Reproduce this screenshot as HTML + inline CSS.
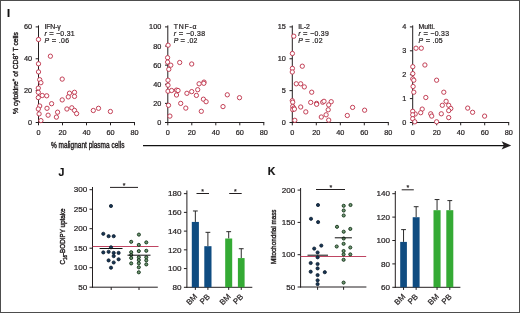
<!DOCTYPE html>
<html><head><meta charset="utf-8"><style>
html,body{margin:0;padding:0;background:#fff;}
body{width:520px;height:313px;overflow:hidden;position:relative;}
svg{position:absolute;left:0;top:0;font-family:"Liberation Sans", sans-serif;filter:blur(0.35px);}
text{stroke:#231f20;stroke-width:0.22px;}
</style></head><body>
<svg width="520" height="313" viewBox="0 0 520 313">
<rect x="0" y="0" width="520" height="313" fill="#fff"/>
<rect x="0.5" y="0.5" width="519" height="312" fill="none" stroke="#4d4d4d" stroke-width="1"/>
<line x1="38.50" y1="25.40" x2="38.50" y2="123.00" stroke="#231f20" stroke-width="1"/>
<line x1="38.00" y1="122.50" x2="135.00" y2="122.50" stroke="#231f20" stroke-width="1"/>
<line x1="35.70" y1="122.50" x2="38.50" y2="122.50" stroke="#231f20" stroke-width="1"/>
<text x="32.00" y="125.00" font-size="7.3" text-anchor="end" fill="#231f20" >0</text>
<line x1="35.70" y1="90.63" x2="38.50" y2="90.63" stroke="#231f20" stroke-width="1"/>
<text x="32.00" y="93.13" font-size="7.3" text-anchor="end" fill="#231f20" >20</text>
<line x1="35.70" y1="58.77" x2="38.50" y2="58.77" stroke="#231f20" stroke-width="1"/>
<text x="32.00" y="61.27" font-size="7.3" text-anchor="end" fill="#231f20" >40</text>
<line x1="35.70" y1="26.90" x2="38.50" y2="26.90" stroke="#231f20" stroke-width="1"/>
<text x="32.00" y="29.40" font-size="7.3" text-anchor="end" fill="#231f20" >60</text>
<line x1="38.50" y1="122.50" x2="38.50" y2="125.30" stroke="#231f20" stroke-width="1"/>
<text x="38.50" y="135.40" font-size="7.3" text-anchor="middle" fill="#231f20" >0</text>
<line x1="62.50" y1="122.50" x2="62.50" y2="125.30" stroke="#231f20" stroke-width="1"/>
<text x="62.50" y="135.40" font-size="7.3" text-anchor="middle" fill="#231f20" >20</text>
<line x1="86.50" y1="122.50" x2="86.50" y2="125.30" stroke="#231f20" stroke-width="1"/>
<text x="86.50" y="135.40" font-size="7.3" text-anchor="middle" fill="#231f20" >40</text>
<line x1="110.50" y1="122.50" x2="110.50" y2="125.30" stroke="#231f20" stroke-width="1"/>
<text x="110.50" y="135.40" font-size="7.3" text-anchor="middle" fill="#231f20" >60</text>
<line x1="134.50" y1="122.50" x2="134.50" y2="125.30" stroke="#231f20" stroke-width="1"/>
<text x="134.50" y="135.40" font-size="7.3" text-anchor="middle" fill="#231f20" >80</text>
<text x="44.40" y="29.00" font-size="6.9" text-anchor="start" fill="#231f20" textLength="16.4">IFN-γ</text>
<text x="44.40" y="36.00" font-size="6.9" text-anchor="start" fill="#231f20" textLength="30.2"><tspan font-style="italic">r</tspan> <tspan font-size="7.6">=</tspan> −0.31</text>
<text x="44.40" y="43.00" font-size="6.9" text-anchor="start" fill="#231f20" textLength="24.7"><tspan font-style="italic">P</tspan> <tspan font-size="7.6">=</tspan> .06</text>
<line x1="167.80" y1="25.40" x2="167.80" y2="123.00" stroke="#231f20" stroke-width="1"/>
<line x1="167.30" y1="122.50" x2="264.30" y2="122.50" stroke="#231f20" stroke-width="1"/>
<line x1="165.00" y1="122.50" x2="167.80" y2="122.50" stroke="#231f20" stroke-width="1"/>
<text x="161.30" y="125.00" font-size="7.3" text-anchor="end" fill="#231f20" >0</text>
<line x1="165.00" y1="103.38" x2="167.80" y2="103.38" stroke="#231f20" stroke-width="1"/>
<text x="161.30" y="105.88" font-size="7.3" text-anchor="end" fill="#231f20" >20</text>
<line x1="165.00" y1="84.26" x2="167.80" y2="84.26" stroke="#231f20" stroke-width="1"/>
<text x="161.30" y="86.76" font-size="7.3" text-anchor="end" fill="#231f20" >40</text>
<line x1="165.00" y1="65.14" x2="167.80" y2="65.14" stroke="#231f20" stroke-width="1"/>
<text x="161.30" y="67.64" font-size="7.3" text-anchor="end" fill="#231f20" >60</text>
<line x1="165.00" y1="46.02" x2="167.80" y2="46.02" stroke="#231f20" stroke-width="1"/>
<text x="161.30" y="48.52" font-size="7.3" text-anchor="end" fill="#231f20" >80</text>
<line x1="165.00" y1="26.90" x2="167.80" y2="26.90" stroke="#231f20" stroke-width="1"/>
<text x="161.30" y="29.40" font-size="7.3" text-anchor="end" fill="#231f20" >100</text>
<line x1="167.80" y1="122.50" x2="167.80" y2="125.30" stroke="#231f20" stroke-width="1"/>
<text x="167.80" y="135.40" font-size="7.3" text-anchor="middle" fill="#231f20" >0</text>
<line x1="191.80" y1="122.50" x2="191.80" y2="125.30" stroke="#231f20" stroke-width="1"/>
<text x="191.80" y="135.40" font-size="7.3" text-anchor="middle" fill="#231f20" >20</text>
<line x1="215.80" y1="122.50" x2="215.80" y2="125.30" stroke="#231f20" stroke-width="1"/>
<text x="215.80" y="135.40" font-size="7.3" text-anchor="middle" fill="#231f20" >40</text>
<line x1="239.80" y1="122.50" x2="239.80" y2="125.30" stroke="#231f20" stroke-width="1"/>
<text x="239.80" y="135.40" font-size="7.3" text-anchor="middle" fill="#231f20" >60</text>
<line x1="263.80" y1="122.50" x2="263.80" y2="125.30" stroke="#231f20" stroke-width="1"/>
<text x="263.80" y="135.40" font-size="7.3" text-anchor="middle" fill="#231f20" >80</text>
<text x="173.70" y="29.00" font-size="6.9" text-anchor="start" fill="#231f20" textLength="22.9">TNF-α</text>
<text x="173.70" y="36.00" font-size="6.9" text-anchor="start" fill="#231f20" textLength="31.3"><tspan font-style="italic">r</tspan> <tspan font-size="7.6">=</tspan> −0.38</text>
<text x="173.70" y="43.00" font-size="6.9" text-anchor="start" fill="#231f20" textLength="23.6"><tspan font-style="italic">P</tspan> <tspan font-size="7.6">=</tspan> .02</text>
<line x1="292.30" y1="25.40" x2="292.30" y2="123.00" stroke="#231f20" stroke-width="1"/>
<line x1="291.80" y1="122.50" x2="388.80" y2="122.50" stroke="#231f20" stroke-width="1"/>
<line x1="289.50" y1="122.50" x2="292.30" y2="122.50" stroke="#231f20" stroke-width="1"/>
<text x="285.80" y="125.00" font-size="7.3" text-anchor="end" fill="#231f20" >0</text>
<line x1="289.50" y1="90.63" x2="292.30" y2="90.63" stroke="#231f20" stroke-width="1"/>
<text x="285.80" y="93.13" font-size="7.3" text-anchor="end" fill="#231f20" >5</text>
<line x1="289.50" y1="58.77" x2="292.30" y2="58.77" stroke="#231f20" stroke-width="1"/>
<text x="285.80" y="61.27" font-size="7.3" text-anchor="end" fill="#231f20" >10</text>
<line x1="289.50" y1="26.90" x2="292.30" y2="26.90" stroke="#231f20" stroke-width="1"/>
<text x="285.80" y="29.40" font-size="7.3" text-anchor="end" fill="#231f20" >15</text>
<line x1="292.30" y1="122.50" x2="292.30" y2="125.30" stroke="#231f20" stroke-width="1"/>
<text x="292.30" y="135.40" font-size="7.3" text-anchor="middle" fill="#231f20" >0</text>
<line x1="316.30" y1="122.50" x2="316.30" y2="125.30" stroke="#231f20" stroke-width="1"/>
<text x="316.30" y="135.40" font-size="7.3" text-anchor="middle" fill="#231f20" >20</text>
<line x1="340.30" y1="122.50" x2="340.30" y2="125.30" stroke="#231f20" stroke-width="1"/>
<text x="340.30" y="135.40" font-size="7.3" text-anchor="middle" fill="#231f20" >40</text>
<line x1="364.30" y1="122.50" x2="364.30" y2="125.30" stroke="#231f20" stroke-width="1"/>
<text x="364.30" y="135.40" font-size="7.3" text-anchor="middle" fill="#231f20" >60</text>
<line x1="388.30" y1="122.50" x2="388.30" y2="125.30" stroke="#231f20" stroke-width="1"/>
<text x="388.30" y="135.40" font-size="7.3" text-anchor="middle" fill="#231f20" >80</text>
<text x="298.20" y="29.00" font-size="6.9" text-anchor="start" fill="#231f20" textLength="11.7">IL-2</text>
<text x="298.20" y="36.00" font-size="6.9" text-anchor="start" fill="#231f20" textLength="30.6"><tspan font-style="italic">r</tspan> <tspan font-size="7.6">=</tspan> −0.39</text>
<text x="298.20" y="43.00" font-size="6.9" text-anchor="start" fill="#231f20" textLength="24.3"><tspan font-style="italic">P</tspan> <tspan font-size="7.6">=</tspan> .02</text>
<line x1="412.70" y1="25.40" x2="412.70" y2="123.00" stroke="#231f20" stroke-width="1"/>
<line x1="412.20" y1="122.50" x2="509.20" y2="122.50" stroke="#231f20" stroke-width="1"/>
<line x1="409.90" y1="122.50" x2="412.70" y2="122.50" stroke="#231f20" stroke-width="1"/>
<text x="406.20" y="125.00" font-size="7.3" text-anchor="end" fill="#231f20" >0</text>
<line x1="409.90" y1="98.60" x2="412.70" y2="98.60" stroke="#231f20" stroke-width="1"/>
<text x="406.20" y="101.10" font-size="7.3" text-anchor="end" fill="#231f20" >1</text>
<line x1="409.90" y1="74.70" x2="412.70" y2="74.70" stroke="#231f20" stroke-width="1"/>
<text x="406.20" y="77.20" font-size="7.3" text-anchor="end" fill="#231f20" >2</text>
<line x1="409.90" y1="50.80" x2="412.70" y2="50.80" stroke="#231f20" stroke-width="1"/>
<text x="406.20" y="53.30" font-size="7.3" text-anchor="end" fill="#231f20" >3</text>
<line x1="409.90" y1="26.90" x2="412.70" y2="26.90" stroke="#231f20" stroke-width="1"/>
<text x="406.20" y="29.40" font-size="7.3" text-anchor="end" fill="#231f20" >4</text>
<line x1="412.70" y1="122.50" x2="412.70" y2="125.30" stroke="#231f20" stroke-width="1"/>
<text x="412.70" y="135.40" font-size="7.3" text-anchor="middle" fill="#231f20" >0</text>
<line x1="436.70" y1="122.50" x2="436.70" y2="125.30" stroke="#231f20" stroke-width="1"/>
<text x="436.70" y="135.40" font-size="7.3" text-anchor="middle" fill="#231f20" >20</text>
<line x1="460.70" y1="122.50" x2="460.70" y2="125.30" stroke="#231f20" stroke-width="1"/>
<text x="460.70" y="135.40" font-size="7.3" text-anchor="middle" fill="#231f20" >40</text>
<line x1="484.70" y1="122.50" x2="484.70" y2="125.30" stroke="#231f20" stroke-width="1"/>
<text x="484.70" y="135.40" font-size="7.3" text-anchor="middle" fill="#231f20" >60</text>
<line x1="508.70" y1="122.50" x2="508.70" y2="125.30" stroke="#231f20" stroke-width="1"/>
<text x="508.70" y="135.40" font-size="7.3" text-anchor="middle" fill="#231f20" >80</text>
<text x="418.60" y="29.00" font-size="6.9" text-anchor="start" fill="#231f20" textLength="16.3">Multi.</text>
<text x="418.60" y="36.00" font-size="6.9" text-anchor="start" fill="#231f20" textLength="30.4"><tspan font-style="italic">r</tspan> <tspan font-size="7.6">=</tspan> −0.33</text>
<text x="418.60" y="43.00" font-size="6.9" text-anchor="start" fill="#231f20" textLength="24.1"><tspan font-style="italic">P</tspan> <tspan font-size="7.6">=</tspan> .05</text>
<circle cx="38.50" cy="39.50" r="2.15" fill="#fff" stroke="#c0384f" stroke-width="0.95"/>
<circle cx="50.40" cy="56.20" r="2.15" fill="#fff" stroke="#c0384f" stroke-width="0.95"/>
<circle cx="38.50" cy="63.80" r="2.15" fill="#fff" stroke="#c0384f" stroke-width="0.95"/>
<circle cx="38.50" cy="71.90" r="2.15" fill="#fff" stroke="#c0384f" stroke-width="0.95"/>
<circle cx="39.70" cy="79.70" r="2.15" fill="#fff" stroke="#c0384f" stroke-width="0.95"/>
<circle cx="40.90" cy="82.70" r="2.15" fill="#fff" stroke="#c0384f" stroke-width="0.95"/>
<circle cx="62.20" cy="79.10" r="2.15" fill="#fff" stroke="#c0384f" stroke-width="0.95"/>
<circle cx="38.30" cy="88.10" r="2.15" fill="#fff" stroke="#c0384f" stroke-width="0.95"/>
<circle cx="38.30" cy="92.30" r="2.15" fill="#fff" stroke="#c0384f" stroke-width="0.95"/>
<circle cx="42.30" cy="95.50" r="2.15" fill="#fff" stroke="#c0384f" stroke-width="0.95"/>
<circle cx="46.70" cy="95.80" r="2.15" fill="#fff" stroke="#c0384f" stroke-width="0.95"/>
<circle cx="38.30" cy="97.60" r="2.15" fill="#fff" stroke="#c0384f" stroke-width="0.95"/>
<circle cx="69.50" cy="93.20" r="2.15" fill="#fff" stroke="#c0384f" stroke-width="0.95"/>
<circle cx="74.50" cy="92.30" r="2.15" fill="#fff" stroke="#c0384f" stroke-width="0.95"/>
<circle cx="68.30" cy="96.90" r="2.15" fill="#fff" stroke="#c0384f" stroke-width="0.95"/>
<circle cx="74.50" cy="96.40" r="2.15" fill="#fff" stroke="#c0384f" stroke-width="0.95"/>
<circle cx="62.20" cy="99.90" r="2.15" fill="#fff" stroke="#c0384f" stroke-width="0.95"/>
<circle cx="51.60" cy="103.70" r="2.15" fill="#fff" stroke="#c0384f" stroke-width="0.95"/>
<circle cx="47.00" cy="108.30" r="2.15" fill="#fff" stroke="#c0384f" stroke-width="0.95"/>
<circle cx="39.70" cy="106.00" r="2.15" fill="#fff" stroke="#c0384f" stroke-width="0.95"/>
<circle cx="38.30" cy="109.00" r="2.15" fill="#fff" stroke="#c0384f" stroke-width="0.95"/>
<circle cx="66.90" cy="109.00" r="2.15" fill="#fff" stroke="#c0384f" stroke-width="0.95"/>
<circle cx="71.80" cy="107.80" r="2.15" fill="#fff" stroke="#c0384f" stroke-width="0.95"/>
<circle cx="74.50" cy="110.40" r="2.15" fill="#fff" stroke="#c0384f" stroke-width="0.95"/>
<circle cx="76.60" cy="113.60" r="2.15" fill="#fff" stroke="#c0384f" stroke-width="0.95"/>
<circle cx="57.60" cy="112.20" r="2.15" fill="#fff" stroke="#c0384f" stroke-width="0.95"/>
<circle cx="56.40" cy="117.10" r="2.15" fill="#fff" stroke="#c0384f" stroke-width="0.95"/>
<circle cx="48.10" cy="115.20" r="2.15" fill="#fff" stroke="#c0384f" stroke-width="0.95"/>
<circle cx="39.10" cy="113.90" r="2.15" fill="#fff" stroke="#c0384f" stroke-width="0.95"/>
<circle cx="40.90" cy="120.60" r="2.15" fill="#fff" stroke="#c0384f" stroke-width="0.95"/>
<circle cx="93.30" cy="110.50" r="2.15" fill="#fff" stroke="#c0384f" stroke-width="0.95"/>
<circle cx="98.50" cy="108.30" r="2.15" fill="#fff" stroke="#c0384f" stroke-width="0.95"/>
<circle cx="110.40" cy="111.50" r="2.15" fill="#fff" stroke="#c0384f" stroke-width="0.95"/>
<circle cx="168.10" cy="45.20" r="2.15" fill="#fff" stroke="#c0384f" stroke-width="0.95"/>
<circle cx="167.60" cy="57.70" r="2.15" fill="#fff" stroke="#c0384f" stroke-width="0.95"/>
<circle cx="167.60" cy="62.10" r="2.15" fill="#fff" stroke="#c0384f" stroke-width="0.95"/>
<circle cx="170.80" cy="65.20" r="2.15" fill="#fff" stroke="#c0384f" stroke-width="0.95"/>
<circle cx="168.80" cy="69.30" r="2.15" fill="#fff" stroke="#c0384f" stroke-width="0.95"/>
<circle cx="179.70" cy="62.50" r="2.15" fill="#fff" stroke="#c0384f" stroke-width="0.95"/>
<circle cx="191.70" cy="64.00" r="2.15" fill="#fff" stroke="#c0384f" stroke-width="0.95"/>
<circle cx="168.00" cy="80.20" r="2.15" fill="#fff" stroke="#c0384f" stroke-width="0.95"/>
<circle cx="168.00" cy="85.20" r="2.15" fill="#fff" stroke="#c0384f" stroke-width="0.95"/>
<circle cx="168.00" cy="91.20" r="2.15" fill="#fff" stroke="#c0384f" stroke-width="0.95"/>
<circle cx="171.60" cy="90.50" r="2.15" fill="#fff" stroke="#c0384f" stroke-width="0.95"/>
<circle cx="176.50" cy="90.10" r="2.15" fill="#fff" stroke="#c0384f" stroke-width="0.95"/>
<circle cx="178.00" cy="90.50" r="2.15" fill="#fff" stroke="#c0384f" stroke-width="0.95"/>
<circle cx="176.50" cy="95.00" r="2.15" fill="#fff" stroke="#c0384f" stroke-width="0.95"/>
<circle cx="199.10" cy="83.80" r="2.15" fill="#fff" stroke="#c0384f" stroke-width="0.95"/>
<circle cx="204.00" cy="82.10" r="2.15" fill="#fff" stroke="#c0384f" stroke-width="0.95"/>
<circle cx="203.80" cy="83.30" r="2.15" fill="#fff" stroke="#c0384f" stroke-width="0.95"/>
<circle cx="197.70" cy="89.70" r="2.15" fill="#fff" stroke="#c0384f" stroke-width="0.95"/>
<circle cx="191.70" cy="91.60" r="2.15" fill="#fff" stroke="#c0384f" stroke-width="0.95"/>
<circle cx="186.90" cy="93.30" r="2.15" fill="#fff" stroke="#c0384f" stroke-width="0.95"/>
<circle cx="196.40" cy="95.40" r="2.15" fill="#fff" stroke="#c0384f" stroke-width="0.95"/>
<circle cx="203.40" cy="99.20" r="2.15" fill="#fff" stroke="#c0384f" stroke-width="0.95"/>
<circle cx="206.10" cy="101.70" r="2.15" fill="#fff" stroke="#c0384f" stroke-width="0.95"/>
<circle cx="180.70" cy="103.40" r="2.15" fill="#fff" stroke="#c0384f" stroke-width="0.95"/>
<circle cx="185.80" cy="108.10" r="2.15" fill="#fff" stroke="#c0384f" stroke-width="0.95"/>
<circle cx="201.30" cy="111.30" r="2.15" fill="#fff" stroke="#c0384f" stroke-width="0.95"/>
<circle cx="168.50" cy="105.30" r="2.15" fill="#fff" stroke="#c0384f" stroke-width="0.95"/>
<circle cx="169.90" cy="116.10" r="2.15" fill="#fff" stroke="#c0384f" stroke-width="0.95"/>
<circle cx="227.30" cy="94.80" r="2.15" fill="#fff" stroke="#c0384f" stroke-width="0.95"/>
<circle cx="239.50" cy="97.70" r="2.15" fill="#fff" stroke="#c0384f" stroke-width="0.95"/>
<circle cx="223.00" cy="106.60" r="2.15" fill="#fff" stroke="#c0384f" stroke-width="0.95"/>
<circle cx="293.80" cy="36.20" r="2.15" fill="#fff" stroke="#c0384f" stroke-width="0.95"/>
<circle cx="292.40" cy="53.50" r="2.15" fill="#fff" stroke="#c0384f" stroke-width="0.95"/>
<circle cx="302.30" cy="66.20" r="2.15" fill="#fff" stroke="#c0384f" stroke-width="0.95"/>
<circle cx="292.40" cy="68.40" r="2.15" fill="#fff" stroke="#c0384f" stroke-width="0.95"/>
<circle cx="292.30" cy="72.00" r="2.15" fill="#fff" stroke="#c0384f" stroke-width="0.95"/>
<circle cx="296.30" cy="83.80" r="2.15" fill="#fff" stroke="#c0384f" stroke-width="0.95"/>
<circle cx="300.70" cy="83.80" r="2.15" fill="#fff" stroke="#c0384f" stroke-width="0.95"/>
<circle cx="304.30" cy="86.90" r="2.15" fill="#fff" stroke="#c0384f" stroke-width="0.95"/>
<circle cx="311.70" cy="92.20" r="2.15" fill="#fff" stroke="#c0384f" stroke-width="0.95"/>
<circle cx="292.30" cy="100.70" r="2.15" fill="#fff" stroke="#c0384f" stroke-width="0.95"/>
<circle cx="292.70" cy="102.20" r="2.15" fill="#fff" stroke="#c0384f" stroke-width="0.95"/>
<circle cx="292.70" cy="106.40" r="2.15" fill="#fff" stroke="#c0384f" stroke-width="0.95"/>
<circle cx="293.80" cy="108.10" r="2.15" fill="#fff" stroke="#c0384f" stroke-width="0.95"/>
<circle cx="292.70" cy="109.60" r="2.15" fill="#fff" stroke="#c0384f" stroke-width="0.95"/>
<circle cx="294.40" cy="109.10" r="2.15" fill="#fff" stroke="#c0384f" stroke-width="0.95"/>
<circle cx="300.70" cy="107.00" r="2.15" fill="#fff" stroke="#c0384f" stroke-width="0.95"/>
<circle cx="305.80" cy="111.90" r="2.15" fill="#fff" stroke="#c0384f" stroke-width="0.95"/>
<circle cx="310.70" cy="102.40" r="2.15" fill="#fff" stroke="#c0384f" stroke-width="0.95"/>
<circle cx="316.60" cy="103.40" r="2.15" fill="#fff" stroke="#c0384f" stroke-width="0.95"/>
<circle cx="316.60" cy="104.30" r="2.15" fill="#fff" stroke="#c0384f" stroke-width="0.95"/>
<circle cx="322.70" cy="102.20" r="2.15" fill="#fff" stroke="#c0384f" stroke-width="0.95"/>
<circle cx="324.00" cy="101.30" r="2.15" fill="#fff" stroke="#c0384f" stroke-width="0.95"/>
<circle cx="331.20" cy="101.70" r="2.15" fill="#fff" stroke="#c0384f" stroke-width="0.95"/>
<circle cx="328.70" cy="104.90" r="2.15" fill="#fff" stroke="#c0384f" stroke-width="0.95"/>
<circle cx="328.20" cy="109.80" r="2.15" fill="#fff" stroke="#c0384f" stroke-width="0.95"/>
<circle cx="326.10" cy="114.80" r="2.15" fill="#fff" stroke="#c0384f" stroke-width="0.95"/>
<circle cx="321.30" cy="117.00" r="2.15" fill="#fff" stroke="#c0384f" stroke-width="0.95"/>
<circle cx="328.70" cy="120.10" r="2.15" fill="#fff" stroke="#c0384f" stroke-width="0.95"/>
<circle cx="294.80" cy="120.30" r="2.15" fill="#fff" stroke="#c0384f" stroke-width="0.95"/>
<circle cx="347.30" cy="115.50" r="2.15" fill="#fff" stroke="#c0384f" stroke-width="0.95"/>
<circle cx="352.60" cy="107.40" r="2.15" fill="#fff" stroke="#c0384f" stroke-width="0.95"/>
<circle cx="364.60" cy="110.20" r="2.15" fill="#fff" stroke="#c0384f" stroke-width="0.95"/>
<circle cx="416.00" cy="48.20" r="2.15" fill="#fff" stroke="#c0384f" stroke-width="0.95"/>
<circle cx="421.30" cy="48.20" r="2.15" fill="#fff" stroke="#c0384f" stroke-width="0.95"/>
<circle cx="412.80" cy="66.70" r="2.15" fill="#fff" stroke="#c0384f" stroke-width="0.95"/>
<circle cx="424.90" cy="65.00" r="2.15" fill="#fff" stroke="#c0384f" stroke-width="0.95"/>
<circle cx="412.80" cy="73.60" r="2.15" fill="#fff" stroke="#c0384f" stroke-width="0.95"/>
<circle cx="412.70" cy="78.90" r="2.15" fill="#fff" stroke="#c0384f" stroke-width="0.95"/>
<circle cx="413.80" cy="80.20" r="2.15" fill="#fff" stroke="#c0384f" stroke-width="0.95"/>
<circle cx="413.10" cy="86.50" r="2.15" fill="#fff" stroke="#c0384f" stroke-width="0.95"/>
<circle cx="413.80" cy="92.20" r="2.15" fill="#fff" stroke="#c0384f" stroke-width="0.95"/>
<circle cx="436.60" cy="80.20" r="2.15" fill="#fff" stroke="#c0384f" stroke-width="0.95"/>
<circle cx="443.80" cy="92.20" r="2.15" fill="#fff" stroke="#c0384f" stroke-width="0.95"/>
<circle cx="425.80" cy="97.50" r="2.15" fill="#fff" stroke="#c0384f" stroke-width="0.95"/>
<circle cx="446.10" cy="101.30" r="2.15" fill="#fff" stroke="#c0384f" stroke-width="0.95"/>
<circle cx="442.30" cy="105.30" r="2.15" fill="#fff" stroke="#c0384f" stroke-width="0.95"/>
<circle cx="448.70" cy="105.30" r="2.15" fill="#fff" stroke="#c0384f" stroke-width="0.95"/>
<circle cx="450.80" cy="108.50" r="2.15" fill="#fff" stroke="#c0384f" stroke-width="0.95"/>
<circle cx="448.70" cy="110.60" r="2.15" fill="#fff" stroke="#c0384f" stroke-width="0.95"/>
<circle cx="422.20" cy="109.10" r="2.15" fill="#fff" stroke="#c0384f" stroke-width="0.95"/>
<circle cx="420.70" cy="112.70" r="2.15" fill="#fff" stroke="#c0384f" stroke-width="0.95"/>
<circle cx="415.20" cy="114.00" r="2.15" fill="#fff" stroke="#c0384f" stroke-width="0.95"/>
<circle cx="412.70" cy="111.30" r="2.15" fill="#fff" stroke="#c0384f" stroke-width="0.95"/>
<circle cx="412.70" cy="114.80" r="2.15" fill="#fff" stroke="#c0384f" stroke-width="0.95"/>
<circle cx="412.70" cy="118.70" r="2.15" fill="#fff" stroke="#c0384f" stroke-width="0.95"/>
<circle cx="430.70" cy="113.80" r="2.15" fill="#fff" stroke="#c0384f" stroke-width="0.95"/>
<circle cx="431.70" cy="116.10" r="2.15" fill="#fff" stroke="#c0384f" stroke-width="0.95"/>
<circle cx="441.30" cy="113.80" r="2.15" fill="#fff" stroke="#c0384f" stroke-width="0.95"/>
<circle cx="448.70" cy="117.60" r="2.15" fill="#fff" stroke="#c0384f" stroke-width="0.95"/>
<circle cx="436.60" cy="121.80" r="2.15" fill="#fff" stroke="#c0384f" stroke-width="0.95"/>
<circle cx="414.80" cy="121.80" r="2.15" fill="#fff" stroke="#c0384f" stroke-width="0.95"/>
<circle cx="467.70" cy="108.10" r="2.15" fill="#fff" stroke="#c0384f" stroke-width="0.95"/>
<circle cx="472.60" cy="112.30" r="2.15" fill="#fff" stroke="#c0384f" stroke-width="0.95"/>
<circle cx="484.60" cy="116.10" r="2.15" fill="#fff" stroke="#c0384f" stroke-width="0.95"/>
<text x="51" y="148.3" font-size="8.5" fill="#231f20" style="stroke-width:0.4px" textLength="73.5" lengthAdjust="spacingAndGlyphs">% malignant plasma cells</text>
<line x1="143.00" y1="145.60" x2="505.00" y2="145.60" stroke="#111" stroke-width="1.25"/>
<path d="M511.2,145.6 L501.6,141.3 L503.9,145.6 L501.6,149.6 Z" fill="#231f20"/>
<text transform="translate(17.5,114) rotate(-90)" x="0" y="0" font-size="7.9" fill="#231f20" style="stroke-width:0.4px" textLength="82" lengthAdjust="spacingAndGlyphs">% cytokine<tspan dy="-2.4" font-size="5">+</tspan><tspan dy="2.4"> of CD8</tspan><tspan dy="-2.4" font-size="5">+</tspan><tspan dy="2.4"> T cells</tspan></text>
<text x="7.0" y="16.6" font-size="11" font-weight="bold" fill="#111">I</text>
<text x="58.6" y="175.5" font-size="10.5" font-weight="bold" fill="#111">J</text>
<text x="267.8" y="175.4" font-size="10.5" font-weight="bold" fill="#111">K</text>
<line x1="92.50" y1="187.00" x2="92.50" y2="287.70" stroke="#231f20" stroke-width="1"/>
<line x1="89.50" y1="287.20" x2="92.50" y2="287.20" stroke="#231f20" stroke-width="1"/>
<text x="87.20" y="289.90" font-size="8.1" text-anchor="end" fill="#231f20" >50</text>
<line x1="89.50" y1="267.70" x2="92.50" y2="267.70" stroke="#231f20" stroke-width="1"/>
<text x="87.20" y="270.40" font-size="8.1" text-anchor="end" fill="#231f20" >100</text>
<line x1="89.50" y1="248.20" x2="92.50" y2="248.20" stroke="#231f20" stroke-width="1"/>
<text x="87.20" y="250.90" font-size="8.1" text-anchor="end" fill="#231f20" >150</text>
<line x1="89.50" y1="228.70" x2="92.50" y2="228.70" stroke="#231f20" stroke-width="1"/>
<text x="87.20" y="231.40" font-size="8.1" text-anchor="end" fill="#231f20" >200</text>
<line x1="89.50" y1="209.20" x2="92.50" y2="209.20" stroke="#231f20" stroke-width="1"/>
<text x="87.20" y="211.90" font-size="8.1" text-anchor="end" fill="#231f20" >250</text>
<line x1="89.50" y1="189.70" x2="92.50" y2="189.70" stroke="#231f20" stroke-width="1"/>
<text x="87.20" y="192.40" font-size="8.1" text-anchor="end" fill="#231f20" >300</text>
<line x1="92.00" y1="287.20" x2="157.80" y2="287.20" stroke="#231f20" stroke-width="1"/>
<line x1="111.20" y1="287.20" x2="111.20" y2="290.00" stroke="#231f20" stroke-width="1"/>
<line x1="139.00" y1="287.20" x2="139.00" y2="290.00" stroke="#231f20" stroke-width="1"/>
<line x1="92.60" y1="246.50" x2="158.50" y2="246.50" stroke="#bf4562" stroke-width="1"/>
<circle cx="110.96" cy="206.00" r="1.6" fill="#173654" stroke="#0b1a2c" stroke-width="0.8"/>
<circle cx="103.30" cy="233.80" r="1.6" fill="#173654" stroke="#0b1a2c" stroke-width="0.8"/>
<circle cx="108.60" cy="236.20" r="1.6" fill="#173654" stroke="#0b1a2c" stroke-width="0.8"/>
<circle cx="113.70" cy="236.20" r="1.6" fill="#173654" stroke="#0b1a2c" stroke-width="0.8"/>
<circle cx="111.00" cy="247.30" r="1.6" fill="#173654" stroke="#0b1a2c" stroke-width="0.8"/>
<circle cx="103.30" cy="252.40" r="1.6" fill="#173654" stroke="#0b1a2c" stroke-width="0.8"/>
<circle cx="108.60" cy="251.80" r="1.6" fill="#173654" stroke="#0b1a2c" stroke-width="0.8"/>
<circle cx="113.70" cy="252.90" r="1.6" fill="#173654" stroke="#0b1a2c" stroke-width="0.8"/>
<circle cx="118.60" cy="252.90" r="1.6" fill="#173654" stroke="#0b1a2c" stroke-width="0.8"/>
<circle cx="113.70" cy="256.10" r="1.6" fill="#173654" stroke="#0b1a2c" stroke-width="0.8"/>
<circle cx="108.60" cy="260.40" r="1.6" fill="#173654" stroke="#0b1a2c" stroke-width="0.8"/>
<circle cx="118.60" cy="259.30" r="1.6" fill="#173654" stroke="#0b1a2c" stroke-width="0.8"/>
<circle cx="113.70" cy="262.50" r="1.6" fill="#173654" stroke="#0b1a2c" stroke-width="0.8"/>
<circle cx="111.00" cy="267.70" r="1.6" fill="#173654" stroke="#0b1a2c" stroke-width="0.8"/>
<circle cx="138.90" cy="234.60" r="1.55" fill="#6e9670" stroke="#1c3b22" stroke-width="1.0"/>
<circle cx="131.20" cy="241.80" r="1.55" fill="#6e9670" stroke="#1c3b22" stroke-width="1.0"/>
<circle cx="146.30" cy="242.40" r="1.55" fill="#6e9670" stroke="#1c3b22" stroke-width="1.0"/>
<circle cx="138.80" cy="244.90" r="1.55" fill="#6e9670" stroke="#1c3b22" stroke-width="1.0"/>
<circle cx="138.80" cy="251.10" r="1.55" fill="#6e9670" stroke="#1c3b22" stroke-width="1.0"/>
<circle cx="146.30" cy="250.80" r="1.55" fill="#6e9670" stroke="#1c3b22" stroke-width="1.0"/>
<circle cx="131.20" cy="252.20" r="1.55" fill="#6e9670" stroke="#1c3b22" stroke-width="1.0"/>
<circle cx="131.20" cy="255.00" r="1.55" fill="#6e9670" stroke="#1c3b22" stroke-width="1.0"/>
<circle cx="131.20" cy="258.00" r="1.55" fill="#6e9670" stroke="#1c3b22" stroke-width="1.0"/>
<circle cx="138.80" cy="257.30" r="1.55" fill="#6e9670" stroke="#1c3b22" stroke-width="1.0"/>
<circle cx="146.30" cy="257.30" r="1.55" fill="#6e9670" stroke="#1c3b22" stroke-width="1.0"/>
<circle cx="138.80" cy="260.10" r="1.55" fill="#6e9670" stroke="#1c3b22" stroke-width="1.0"/>
<circle cx="146.30" cy="260.40" r="1.55" fill="#6e9670" stroke="#1c3b22" stroke-width="1.0"/>
<circle cx="131.20" cy="263.40" r="1.55" fill="#6e9670" stroke="#1c3b22" stroke-width="1.0"/>
<circle cx="138.80" cy="263.30" r="1.55" fill="#6e9670" stroke="#1c3b22" stroke-width="1.0"/>
<circle cx="146.30" cy="264.40" r="1.55" fill="#6e9670" stroke="#1c3b22" stroke-width="1.0"/>
<circle cx="138.80" cy="267.30" r="1.55" fill="#6e9670" stroke="#1c3b22" stroke-width="1.0"/>
<circle cx="138.80" cy="272.30" r="1.55" fill="#6e9670" stroke="#1c3b22" stroke-width="1.0"/>
<line x1="99.60" y1="248.50" x2="122.50" y2="248.50" stroke="#111" stroke-width="1"/>
<line x1="127.50" y1="255.20" x2="150.50" y2="255.20" stroke="#111" stroke-width="1"/>
<line x1="110.00" y1="187.40" x2="138.00" y2="187.40" stroke="#231f20" stroke-width="1"/>
<text x="124.20" y="187.60" font-size="7" text-anchor="middle" fill="#231f20" >*</text>
<text transform="translate(65.3,264.6) rotate(-90)" x="0" y="0" font-size="7.8" fill="#231f20" style="stroke-width:0.4px" textLength="56" lengthAdjust="spacingAndGlyphs">C<tspan dy="2.0" font-size="5.6">16</tspan><tspan dy="-2.0">-BODIPY uptake</tspan></text>
<line x1="186.90" y1="190.50" x2="186.90" y2="287.80" stroke="#231f20" stroke-width="1"/>
<line x1="183.90" y1="287.30" x2="186.90" y2="287.30" stroke="#231f20" stroke-width="1"/>
<text x="181.60" y="290.00" font-size="8.1" text-anchor="end" fill="#231f20" >80</text>
<line x1="183.90" y1="268.57" x2="186.90" y2="268.57" stroke="#231f20" stroke-width="1"/>
<text x="181.60" y="271.27" font-size="8.1" text-anchor="end" fill="#231f20" >100</text>
<line x1="183.90" y1="249.84" x2="186.90" y2="249.84" stroke="#231f20" stroke-width="1"/>
<text x="181.60" y="252.54" font-size="8.1" text-anchor="end" fill="#231f20" >120</text>
<line x1="183.90" y1="231.11" x2="186.90" y2="231.11" stroke="#231f20" stroke-width="1"/>
<text x="181.60" y="233.81" font-size="8.1" text-anchor="end" fill="#231f20" >140</text>
<line x1="183.90" y1="212.38" x2="186.90" y2="212.38" stroke="#231f20" stroke-width="1"/>
<text x="181.60" y="215.08" font-size="8.1" text-anchor="end" fill="#231f20" >160</text>
<line x1="183.90" y1="193.65" x2="186.90" y2="193.65" stroke="#231f20" stroke-width="1"/>
<text x="181.60" y="196.35" font-size="8.1" text-anchor="end" fill="#231f20" >180</text>
<line x1="186.40" y1="287.30" x2="252.30" y2="287.30" stroke="#231f20" stroke-width="1"/>
<line x1="195.35" y1="210.98" x2="195.35" y2="221.93" stroke="#2a2a2a" stroke-width="1.0"/>
<line x1="192.95" y1="210.98" x2="197.75" y2="210.98" stroke="#2a2a2a" stroke-width="1.0"/>
<rect x="191.80" y="221.93" width="7.10" height="65.37" fill="#0f4c81"/>
<line x1="195.35" y1="287.30" x2="195.35" y2="289.90" stroke="#231f20" stroke-width="1"/>
<line x1="207.90" y1="232.33" x2="207.90" y2="246.19" stroke="#2a2a2a" stroke-width="1.0"/>
<line x1="205.50" y1="232.33" x2="210.30" y2="232.33" stroke="#2a2a2a" stroke-width="1.0"/>
<rect x="204.30" y="246.19" width="7.20" height="41.11" fill="#0f4c81"/>
<line x1="207.90" y1="287.30" x2="207.90" y2="289.90" stroke="#231f20" stroke-width="1"/>
<line x1="228.70" y1="231.67" x2="228.70" y2="238.51" stroke="#2a2a2a" stroke-width="1.0"/>
<line x1="226.30" y1="231.67" x2="231.10" y2="231.67" stroke="#2a2a2a" stroke-width="1.0"/>
<rect x="225.20" y="238.51" width="7.00" height="48.79" fill="#34aa34"/>
<line x1="228.70" y1="287.30" x2="228.70" y2="289.90" stroke="#231f20" stroke-width="1"/>
<line x1="241.25" y1="248.72" x2="241.25" y2="258.08" stroke="#2a2a2a" stroke-width="1.0"/>
<line x1="238.85" y1="248.72" x2="243.65" y2="248.72" stroke="#2a2a2a" stroke-width="1.0"/>
<rect x="237.90" y="258.08" width="6.70" height="29.22" fill="#34aa34"/>
<line x1="241.25" y1="287.30" x2="241.25" y2="289.90" stroke="#231f20" stroke-width="1"/>
<line x1="196.50" y1="193.50" x2="209.00" y2="193.50" stroke="#231f20" stroke-width="1"/>
<text x="202.70" y="193.60" font-size="7" text-anchor="middle" fill="#231f20" >*</text>
<line x1="229.20" y1="193.50" x2="241.70" y2="193.50" stroke="#231f20" stroke-width="1"/>
<text x="235.40" y="193.60" font-size="7" text-anchor="middle" fill="#231f20" >*</text>
<text transform="translate(197.75,297.20) rotate(-45)" x="0" y="0" font-size="7.9" text-anchor="end" fill="#231f20">BM</text>
<text transform="translate(210.45,297.20) rotate(-45)" x="0" y="0" font-size="7.9" text-anchor="end" fill="#231f20">PB</text>
<text transform="translate(231.10,297.20) rotate(-45)" x="0" y="0" font-size="7.9" text-anchor="end" fill="#231f20">BM</text>
<text transform="translate(243.65,297.20) rotate(-45)" x="0" y="0" font-size="7.9" text-anchor="end" fill="#231f20">PB</text>
<line x1="300.60" y1="188.00" x2="300.60" y2="287.50" stroke="#231f20" stroke-width="1"/>
<line x1="297.60" y1="287.00" x2="300.60" y2="287.00" stroke="#231f20" stroke-width="1"/>
<text x="295.30" y="289.70" font-size="8.1" text-anchor="end" fill="#231f20" >50</text>
<line x1="297.60" y1="254.70" x2="300.60" y2="254.70" stroke="#231f20" stroke-width="1"/>
<text x="295.30" y="257.40" font-size="8.1" text-anchor="end" fill="#231f20" >100</text>
<line x1="297.60" y1="222.40" x2="300.60" y2="222.40" stroke="#231f20" stroke-width="1"/>
<text x="295.30" y="225.10" font-size="8.1" text-anchor="end" fill="#231f20" >150</text>
<line x1="297.60" y1="190.10" x2="300.60" y2="190.10" stroke="#231f20" stroke-width="1"/>
<text x="295.30" y="192.80" font-size="8.1" text-anchor="end" fill="#231f20" >200</text>
<line x1="300.10" y1="287.00" x2="366.40" y2="287.00" stroke="#231f20" stroke-width="1"/>
<line x1="317.60" y1="287.00" x2="317.60" y2="289.80" stroke="#231f20" stroke-width="1"/>
<line x1="343.60" y1="287.00" x2="343.60" y2="289.80" stroke="#231f20" stroke-width="1"/>
<line x1="300.60" y1="256.50" x2="366.20" y2="256.50" stroke="#bf4562" stroke-width="1"/>
<circle cx="318.00" cy="205.00" r="1.6" fill="#173654" stroke="#0b1a2c" stroke-width="0.8"/>
<circle cx="311.00" cy="218.80" r="1.6" fill="#173654" stroke="#0b1a2c" stroke-width="0.8"/>
<circle cx="318.10" cy="222.10" r="1.6" fill="#173654" stroke="#0b1a2c" stroke-width="0.8"/>
<circle cx="321.30" cy="245.60" r="1.6" fill="#173654" stroke="#0b1a2c" stroke-width="0.8"/>
<circle cx="314.20" cy="248.60" r="1.6" fill="#173654" stroke="#0b1a2c" stroke-width="0.8"/>
<circle cx="317.60" cy="252.50" r="1.6" fill="#173654" stroke="#0b1a2c" stroke-width="0.8"/>
<circle cx="317.60" cy="257.30" r="1.6" fill="#173654" stroke="#0b1a2c" stroke-width="0.8"/>
<circle cx="310.70" cy="263.00" r="1.6" fill="#173654" stroke="#0b1a2c" stroke-width="0.8"/>
<circle cx="317.60" cy="264.00" r="1.6" fill="#173654" stroke="#0b1a2c" stroke-width="0.8"/>
<circle cx="317.60" cy="268.40" r="1.6" fill="#173654" stroke="#0b1a2c" stroke-width="0.8"/>
<circle cx="310.70" cy="271.70" r="1.6" fill="#173654" stroke="#0b1a2c" stroke-width="0.8"/>
<circle cx="324.80" cy="272.20" r="1.6" fill="#173654" stroke="#0b1a2c" stroke-width="0.8"/>
<circle cx="317.60" cy="275.10" r="1.6" fill="#173654" stroke="#0b1a2c" stroke-width="0.8"/>
<circle cx="317.60" cy="280.30" r="1.6" fill="#173654" stroke="#0b1a2c" stroke-width="0.8"/>
<circle cx="317.60" cy="284.10" r="1.6" fill="#173654" stroke="#0b1a2c" stroke-width="0.8"/>
<circle cx="343.70" cy="205.80" r="1.55" fill="#6e9670" stroke="#1c3b22" stroke-width="1.0"/>
<circle cx="350.50" cy="205.00" r="1.55" fill="#6e9670" stroke="#1c3b22" stroke-width="1.0"/>
<circle cx="343.70" cy="210.50" r="1.55" fill="#6e9670" stroke="#1c3b22" stroke-width="1.0"/>
<circle cx="343.70" cy="215.50" r="1.55" fill="#6e9670" stroke="#1c3b22" stroke-width="1.0"/>
<circle cx="337.00" cy="226.80" r="1.55" fill="#6e9670" stroke="#1c3b22" stroke-width="1.0"/>
<circle cx="350.30" cy="228.90" r="1.55" fill="#6e9670" stroke="#1c3b22" stroke-width="1.0"/>
<circle cx="343.70" cy="231.70" r="1.55" fill="#6e9670" stroke="#1c3b22" stroke-width="1.0"/>
<circle cx="343.70" cy="238.50" r="1.55" fill="#6e9670" stroke="#1c3b22" stroke-width="1.0"/>
<circle cx="336.70" cy="246.50" r="1.55" fill="#6e9670" stroke="#1c3b22" stroke-width="1.0"/>
<circle cx="343.60" cy="243.80" r="1.55" fill="#6e9670" stroke="#1c3b22" stroke-width="1.0"/>
<circle cx="350.30" cy="247.50" r="1.55" fill="#6e9670" stroke="#1c3b22" stroke-width="1.0"/>
<circle cx="343.60" cy="251.00" r="1.55" fill="#6e9670" stroke="#1c3b22" stroke-width="1.0"/>
<circle cx="343.60" cy="254.40" r="1.55" fill="#6e9670" stroke="#1c3b22" stroke-width="1.0"/>
<circle cx="350.30" cy="254.40" r="1.55" fill="#6e9670" stroke="#1c3b22" stroke-width="1.0"/>
<circle cx="343.60" cy="259.80" r="1.55" fill="#6e9670" stroke="#1c3b22" stroke-width="1.0"/>
<circle cx="343.60" cy="282.60" r="1.55" fill="#6e9670" stroke="#1c3b22" stroke-width="1.0"/>
<line x1="307.50" y1="255.20" x2="328.00" y2="255.20" stroke="#111" stroke-width="1"/>
<line x1="334.80" y1="237.80" x2="351.90" y2="237.80" stroke="#111" stroke-width="1"/>
<line x1="316.00" y1="189.50" x2="345.00" y2="189.50" stroke="#231f20" stroke-width="1"/>
<text x="330.75" y="189.60" font-size="7" text-anchor="middle" fill="#231f20" >*</text>
<text transform="translate(275.5,264.0) rotate(-90)" x="0" y="0" font-size="7.8" fill="#231f20" style="stroke-width:0.4px" textLength="54.5" lengthAdjust="spacingAndGlyphs">Mitochondrial mass</text>
<line x1="395.30" y1="191.00" x2="395.30" y2="287.80" stroke="#231f20" stroke-width="1"/>
<line x1="392.30" y1="287.30" x2="395.30" y2="287.30" stroke="#231f20" stroke-width="1"/>
<text x="390.00" y="290.00" font-size="8.1" text-anchor="end" fill="#231f20" >60</text>
<line x1="392.30" y1="263.90" x2="395.30" y2="263.90" stroke="#231f20" stroke-width="1"/>
<text x="390.00" y="266.60" font-size="8.1" text-anchor="end" fill="#231f20" >80</text>
<line x1="392.30" y1="240.50" x2="395.30" y2="240.50" stroke="#231f20" stroke-width="1"/>
<text x="390.00" y="243.20" font-size="8.1" text-anchor="end" fill="#231f20" >100</text>
<line x1="392.30" y1="217.10" x2="395.30" y2="217.10" stroke="#231f20" stroke-width="1"/>
<text x="390.00" y="219.80" font-size="8.1" text-anchor="end" fill="#231f20" >120</text>
<line x1="392.30" y1="193.70" x2="395.30" y2="193.70" stroke="#231f20" stroke-width="1"/>
<text x="390.00" y="196.40" font-size="8.1" text-anchor="end" fill="#231f20" >140</text>
<line x1="394.80" y1="287.30" x2="460.40" y2="287.30" stroke="#231f20" stroke-width="1"/>
<line x1="403.55" y1="229.62" x2="403.55" y2="241.90" stroke="#2a2a2a" stroke-width="1.0"/>
<line x1="401.15" y1="229.62" x2="405.95" y2="229.62" stroke="#2a2a2a" stroke-width="1.0"/>
<rect x="400.20" y="241.90" width="6.70" height="45.40" fill="#0f4c81"/>
<line x1="403.55" y1="287.30" x2="403.55" y2="289.90" stroke="#231f20" stroke-width="1"/>
<line x1="416.15" y1="206.69" x2="416.15" y2="217.22" stroke="#2a2a2a" stroke-width="1.0"/>
<line x1="413.75" y1="206.69" x2="418.55" y2="206.69" stroke="#2a2a2a" stroke-width="1.0"/>
<rect x="412.70" y="217.22" width="6.90" height="70.08" fill="#0f4c81"/>
<line x1="416.15" y1="287.30" x2="416.15" y2="289.90" stroke="#231f20" stroke-width="1"/>
<line x1="437.05" y1="199.55" x2="437.05" y2="210.20" stroke="#2a2a2a" stroke-width="1.0"/>
<line x1="434.65" y1="199.55" x2="439.45" y2="199.55" stroke="#2a2a2a" stroke-width="1.0"/>
<rect x="433.50" y="210.20" width="7.10" height="77.10" fill="#34aa34"/>
<line x1="437.05" y1="287.30" x2="437.05" y2="289.90" stroke="#231f20" stroke-width="1"/>
<line x1="449.80" y1="200.60" x2="449.80" y2="210.20" stroke="#2a2a2a" stroke-width="1.0"/>
<line x1="447.40" y1="200.60" x2="452.20" y2="200.60" stroke="#2a2a2a" stroke-width="1.0"/>
<rect x="446.30" y="210.20" width="7.00" height="77.10" fill="#34aa34"/>
<line x1="449.80" y1="287.30" x2="449.80" y2="289.90" stroke="#231f20" stroke-width="1"/>
<line x1="401.70" y1="189.80" x2="413.80" y2="189.80" stroke="#231f20" stroke-width="1"/>
<text x="407.90" y="189.90" font-size="7" text-anchor="middle" fill="#231f20" >*</text>
<text transform="translate(405.95,297.20) rotate(-45)" x="0" y="0" font-size="7.9" text-anchor="end" fill="#231f20">BM</text>
<text transform="translate(418.55,297.20) rotate(-45)" x="0" y="0" font-size="7.9" text-anchor="end" fill="#231f20">PB</text>
<text transform="translate(439.45,297.20) rotate(-45)" x="0" y="0" font-size="7.9" text-anchor="end" fill="#231f20">BM</text>
<text transform="translate(452.20,297.20) rotate(-45)" x="0" y="0" font-size="7.9" text-anchor="end" fill="#231f20">PB</text>
</svg>
</body></html>
